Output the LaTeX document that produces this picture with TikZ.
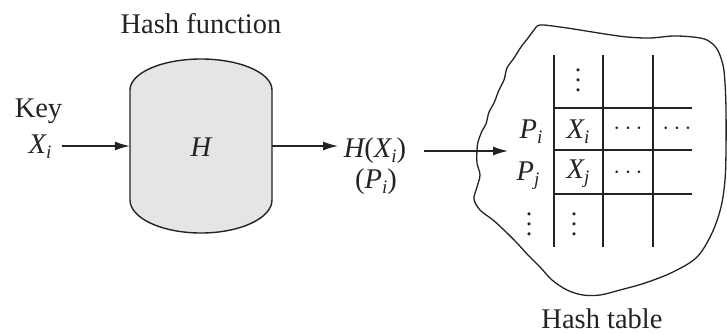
\documentclass[tikz,border=0pt]{standalone}
\usepackage{fontspec}
\setmainfont{Liberation Serif}
\usetikzlibrary{arrows.meta}
\newcommand\myit[2]{{\itshape #1}\raisebox{-5pt}{\fontsize{19}{19}\selectfont\itshape #2}}
\newcommand\myvdots{\vbox{\baselineskip=10pt\lineskiplimit=-20pt\hbox{.}\hbox{.}\hbox{.}}}
\definecolor{boxgray}{RGB}{229,229,229}
\definecolor{ink}{RGB}{35,35,35}
\begin{document}
\begin{tikzpicture}[x=1pt,y=-1pt,
  lbl/.style={font=\fontsize{28.5}{32}\selectfont, inner sep=0pt, anchor=base, text=ink},
  arr/.style={line width=1.4pt, draw=ink, -{Latex[length=15pt,width=9pt]}},
  gridline/.style={line width=1.4pt, draw=ink},
  dotlbl/.style={font=\fontsize{26}{30}\selectfont, inner sep=0pt, text=ink},
  vdotlbl/.style={font=\fontsize{26}{10}\selectfont, inner sep=0pt, text=ink}]
\useasboundingbox (0,0) rectangle (727,333);

% Hash function cylinder
\path[fill=boxgray, draw=ink, line width=1.4pt]
  (130,90) -- (130,200)
  .. controls (130,218.2) and (162,233) .. (201,233)
  .. controls (240,233) and (272,218.2) .. (272,200)
  -- (272,90)
  .. controls (272,72.9) and (240,59) .. (201,59)
  .. controls (162,59) and (130,72.9) .. (130,90) -- cycle;
\node[minimum width=142pt, minimum height=174pt, inner sep=0pt] (hf) at (201,146) {};
\node[lbl] (H) at (201,156) {\itshape H};
\node[lbl] (hftitle) at (201,33) {Hash function};

% Key
\node[lbl] (key) at (38.5,117) {Key};
\node[lbl] (xi) at (40,153) {\myit{X}{i}};

% Output
\node[lbl] (hx) at (375,157) {{\itshape H}(\myit{X}{i})};
\node[lbl] (pi) at (376,188) {(\myit{P}{i})};

% Arrows
\draw[arr] (xi.east |- hf.west) ++(10,0) -- (hf.west);
\draw[arr] (hf.east) -- (338,146) coordinate (a2e);
\coordinate (a3s) at (424,151);
\coordinate (a3e) at (508,151);
\draw[arr] (a3s) -- (a3e);

% Hash table outline
\draw[ink, line width=1.3pt] plot[smooth cycle, tension=0.55] coordinates {
 (540,25) (560,27) (580,30) (605,34) (627,37) (650,38) (673,36) (693,37)
 (707,40) (717,49) (723,65) (725,83) (726,110) (726,150) (725,180) (721,207)
 (712,233) (697,257) (673,272) (645,283) (620,290) (600,295) (583,295) (567,290)
 (552,280) (540,267) (528,255) (517,243) (505,231) (493,220) (480,210) (474,199)
 (477,187) (480,175) (477,163) (477,150) (478,142) (482,131) (486,124) (489,112)
 (494,103) (499,90) (504,80) (507,68) (514,58) (521,47) (528,38) (534,30)};

% Grid
\draw[gridline] (554,55) -- (554,247);
\draw[gridline] (603,55) -- (603,247);
\draw[gridline] (653,55) -- (653,247);
\draw[gridline] (554,108) -- (692,108);
\draw[gridline] (554,150) -- (692,150);
\draw[gridline, line width=2.2pt] (554,194) -- (692,194);

% Table entries
\node[vdotlbl] (v1) at (578,80) {\myvdots};
\node[lbl] (tpi) at (531,138) {\myit{P}{i}};
\node[lbl] (txi) at (578,138) {\myit{X}{i}};
\node[dotlbl] (c1) at (628,129) {$\cdots$};
\node[dotlbl] (c2) at (677,129) {$\cdots$};
\node[lbl] (tpj) at (528,180) {\myit{P}{j}};
\node[lbl] (txj) at (578,178) {\myit{X}{j}};
\node[dotlbl] (c3) at (628,173) {$\cdots$};
\node[vdotlbl] (v2) at (529,224) {\myvdots};
\node[vdotlbl] (v3) at (574,224) {\myvdots};

\node[lbl] (httitle) at (602,328) {Hash table};
\end{tikzpicture}
\end{document}
